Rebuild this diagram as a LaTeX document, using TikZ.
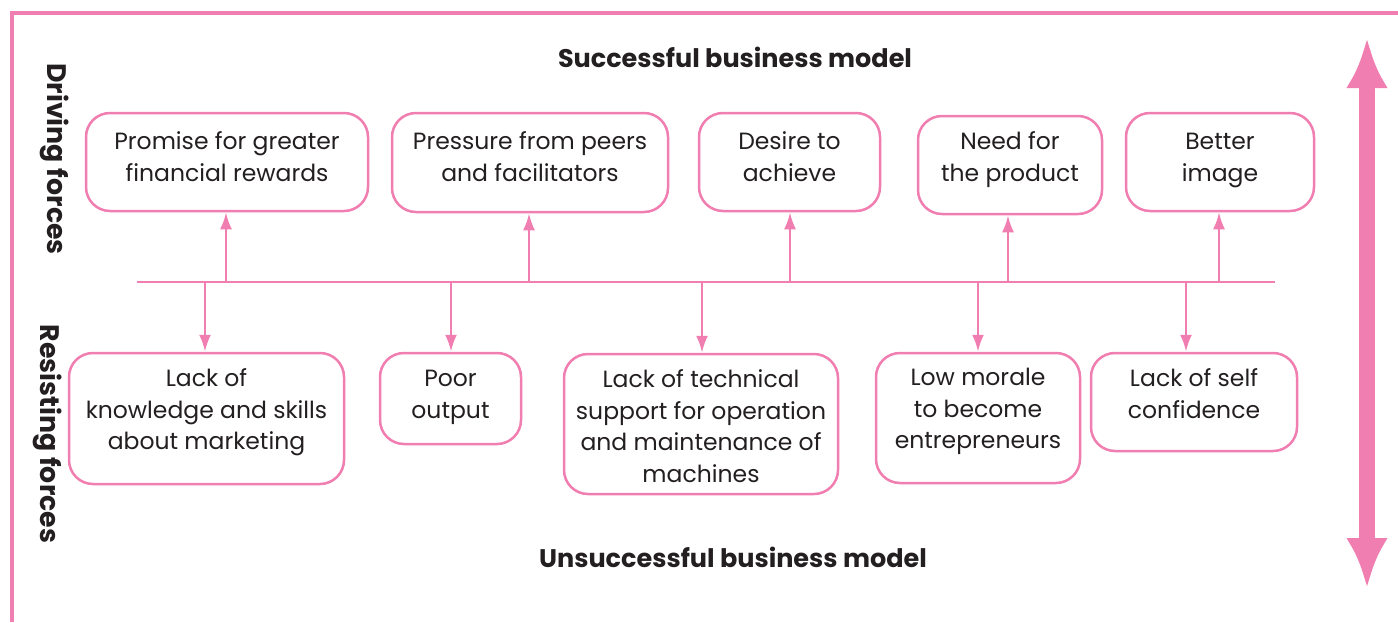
\documentclass[tikz,border=0pt]{standalone}
\usepackage{fontspec}
\setmainfont{Poppins}
\usetikzlibrary{arrows.meta}
\definecolor{pk}{RGB}{240,126,176}
\definecolor{tx}{RGB}{35,31,32}
\tikzset{
  fbox/.style={draw=pk, line width=2.5pt, rounded corners=24pt, inner sep=0pt},
  ftext/.style={anchor=north, inner sep=0pt, align=center, text=tx,
     font=\fontsize{23.5}{31.8}\selectfont},
  arr/.style={draw=pk, line width=2.5pt, -{Latex[length=17pt,width=12pt]}},
  title/.style={text=tx, font=\fontsize{25.5}{30}\selectfont\bfseries},
  side/.style={text=tx, font=\fontsize{26.8}{30}\selectfont\bfseries, rotate=-90},
}
\begin{document}
\begin{tikzpicture}[x=1pt,y=-1pt]
\useasboundingbox (0,0) rectangle (1398,622);
% frame
\draw[pk, line width=4pt] (12,622) -- (12,13) -- (1398,13);
% titles
\node[title] (ts) at (735,57) {Successful business model};
\node[title] (tu) at (733,557) {Unsuccessful business model};
\node[side] (df) at (55,159) {Driving forces};
\node[side] (rf) at (48,434) {Resisting forces};
% top boxes
\node[fbox, minimum width=282pt, minimum height=98pt] (t1) at (227,162) {};
\node[fbox, minimum width=276pt, minimum height=99pt] (t2) at (530,162.5) {};
\node[fbox, minimum width=181pt, minimum height=98pt] (t3) at (789.5,162) {};
\node[fbox, minimum width=184pt, minimum height=98pt] (t4) at (1010,165) {};
\node[fbox, minimum width=188pt, minimum height=98pt] (t5) at (1220,162) {};
\node[ftext] (t1x) at ([yshift=-15pt]t1.north) {\strut Promise for greater\\financial rewards};
\node[ftext] (t2x) at ([yshift=-15pt]t2.north) {\strut Pressure from peers\\and facilitators};
\node[ftext] (t3x) at ([yshift=-15pt]t3.north) {\strut Desire to\\achieve};
\node[ftext] (t4x) at ([yshift=-12pt]t4.north) {\strut Need for\\the product};
\node[ftext] (t5x) at ([yshift=-15pt]t5.north) {\strut Better\\image};
% bottom boxes
\node[fbox, minimum width=275pt, minimum height=131pt] (b1) at (206.5,418.5) {};
\node[fbox, minimum width=141pt, minimum height=91pt] (b2) at (450.5,398.5) {};
\node[fbox, minimum width=274pt, minimum height=140pt] (b3) at (701,424) {};
\node[fbox, minimum width=204pt, minimum height=130pt] (b4) at (978,418) {};
\node[fbox, minimum width=206pt, minimum height=98pt] (b5) at (1194,402) {};
\node[ftext] (b1x) at ([yshift=-12pt]b1.north) {\strut Lack of\\knowledge and skills\\about marketing};
\node[ftext] (b2x) at ([yshift=-12pt]b2.north) {\strut Poor\\output};
\node[ftext] (b3x) at ([yshift=-12pt]b3.north) {\strut Lack of technical\\support for operation\\and maintenance of\\machines};
\node[ftext] (b4x) at ([yshift=-11pt]b4.north) {\strut Low morale\\to become\\entrepreneurs};
\node[ftext] (b5x) at ([yshift=-12pt]b5.north) {\strut Lack of self\\confidence};
% central line
\coordinate (la) at (137,282);
\coordinate (lb) at (1275,282);
\draw[pk, line width=2.5pt] (la) -- (lb);
\foreach \x/\n in {226/t1,529/t2,790/t3,1008/t4,1219/t5}{
  \coordinate (u\n) at (\x,282);
  \draw[arr] (u\n) -- (u\n |- \n.south);
}
\foreach \x/\n in {205/b1,451/b2,702/b3,978/b4,1186/b5}{
  \coordinate (d\n) at (\x,282);
  \draw[arr] (d\n) -- (d\n |- \n.north);
}
% big double arrow
\coordinate (aa) at (1367,38);
\coordinate (ab) at (1367,588);
\draw[pk, line width=16pt, {Latex[length=50pt,width=42pt]}-{Latex[length=50pt,width=42pt]}] (aa) -- (ab);
\end{tikzpicture}
\end{document}
